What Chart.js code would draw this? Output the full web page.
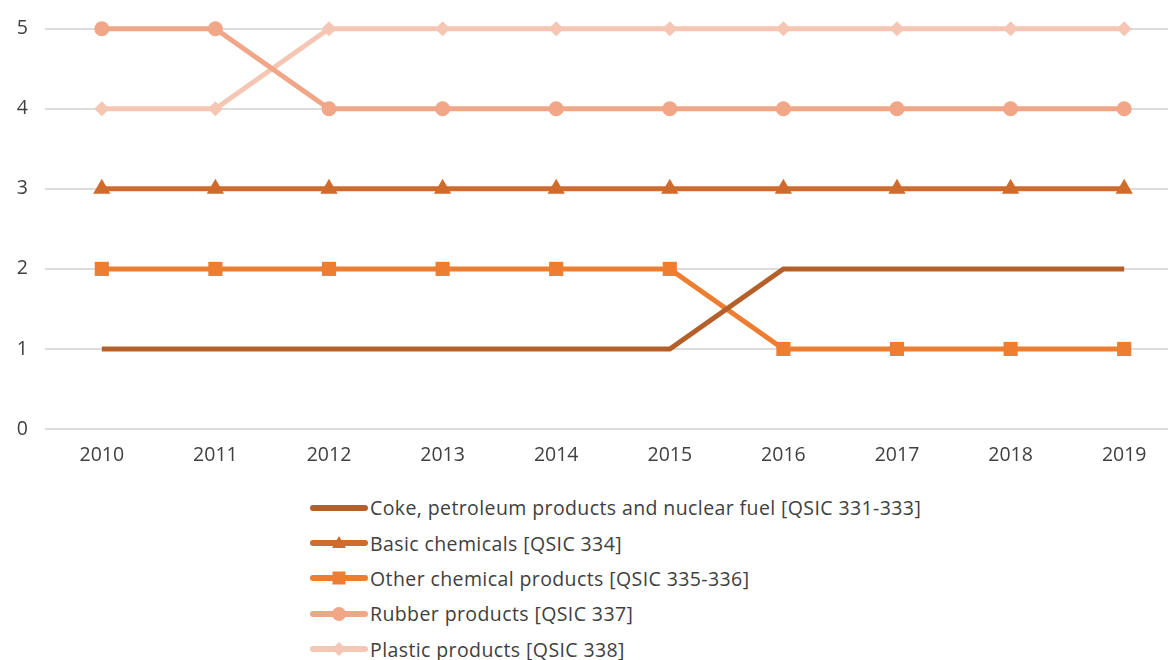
<!DOCTYPE html>
<html>
<head>
<meta charset="utf-8">
<script src="https://cdn.jsdelivr.net/npm/chart.js@4"></script>
<style>
  html, body { margin: 0; padding: 0; background: #fff; overflow: hidden; width: 1168px; height: 660px; }
  #wrap { position: absolute; left: 0; top: 0; width: 1181px; height: 475px; }
  #legend { position: absolute; left: 310px; top: 490px; font-family: "Open Sans", sans-serif; font-size: 19.5px; letter-spacing: 0.4px; color: #404040; }
  .item { display: flex; align-items: center; height: 35.4px; }
  .item svg { margin-right: 2px; }
</style>
</head>
<body>
<div id="wrap"><canvas id="chart"></canvas></div>
<div id="legend"></div>
<script>
const years = ["2010", "2011", "2012", "2013", "2014", "2015", "2016", "2017", "2018", "2019"]
const coke = [1, 1, 1, 1, 1, 1, 2, 2, 2, 2]
const basicChem = [3, 3, 3, 3, 3, 3, 3, 3, 3, 3]
const otherChem = [2, 2, 2, 2, 2, 2, 1, 1, 1, 1]
const rubber = [5, 5, 4, 4, 4, 4, 4, 4, 4, 4]
const plastic = [4, 4, 5, 5, 5, 5, 5, 5, 5, 5]
const yTicks = [0, 1, 2, 3, 4, 5]

const textColor = "#404040"
const gridColor = "#dcdcdc"

function series(label, data, color, style, radius) {
  return {
    label: label,
    data: data,
    borderColor: color,
    backgroundColor: color,
    borderWidth: 5,
    pointStyle: style || "circle",
    pointRadius: radius || 0,
    pointHoverRadius: radius || 0,
    pointBorderWidth: 0,
    tension: 0,
    clip: false,
  }
}

const datasets = [
  series("Coke, petroleum products and nuclear fuel [QSIC 331-333]", coke, "#b5602a", null, 0),
  series("Basic chemicals [QSIC 334]", basicChem, "#d06b2e", "triangle", 10),
  series("Other chemical products [QSIC 335-336]", otherChem, "#ed7d31", "rect", 10),
  series("Rubber products [QSIC 337]", rubber, "#f0a687", "circle", 7.5),
  series("Plastic products [QSIC 338]", plastic, "#f6c6b4", "rectRot", 7.5),
]

const chart = new Chart(document.getElementById("chart"), {
  type: "line",
  data: { labels: years, datasets: datasets },
  options: {
    responsive: true,
    maintainAspectRatio: false,
    animation: false,
    layout: { autoPadding: false, padding: { top: 27, left: 0, right: 0, bottom: 0 } },
    plugins: { legend: { display: false }, tooltip: { enabled: false } },
    scales: {
      x: {
        offset: true,
        grid: { display: false, drawTicks: false },
        border: { display: false },
        ticks: { color: textColor, padding: 15, font: { family: "Open Sans", size: 19.5 } },
        afterFit: (s) => { s.height = 46 },
      },
      y: {
        min: 0,
        max: 5,
        afterBuildTicks: (s) => { s.ticks = yTicks.map((v) => ({ value: v })) },
        grid: { color: gridColor, lineWidth: 2, drawTicks: false },
        border: { display: false },
        ticks: { color: textColor, padding: 17, font: { family: "Open Sans", size: 19.5 } },
        afterFit: (s) => { s.width = 45 },
      },
    },
  },
})

// legend as html, icons follow the dataset styles
function iconSvg(ds) {
  const c = ds.borderColor
  let marker = ""
  if (ds.pointRadius) {
    if (ds.pointStyle === "triangle") marker = `<polygon points="29,4 36,16 22,16" fill="${c}"/>`
    else if (ds.pointStyle === "rect") marker = `<rect x="22.5" y="4.5" width="13" height="13" fill="${c}"/>`
    else if (ds.pointStyle === "circle") marker = `<circle cx="29" cy="11" r="7" fill="${c}"/>`
    else if (ds.pointStyle === "rectRot") marker = `<polygon points="29,4 36,11 29,18 22,11" fill="${c}"/>`
  }
  return `<svg width="58" height="22"><line x1="3" y1="11" x2="55" y2="11" stroke="${c}" stroke-width="6" stroke-linecap="round"/>${marker}</svg>`
}

const legend = document.getElementById("legend")
chart.data.datasets.forEach((ds) => {
  legend.innerHTML += `<div class="item">${iconSvg(ds)}<span>${ds.label}</span></div>`
})
</script>
</body>
</html>
